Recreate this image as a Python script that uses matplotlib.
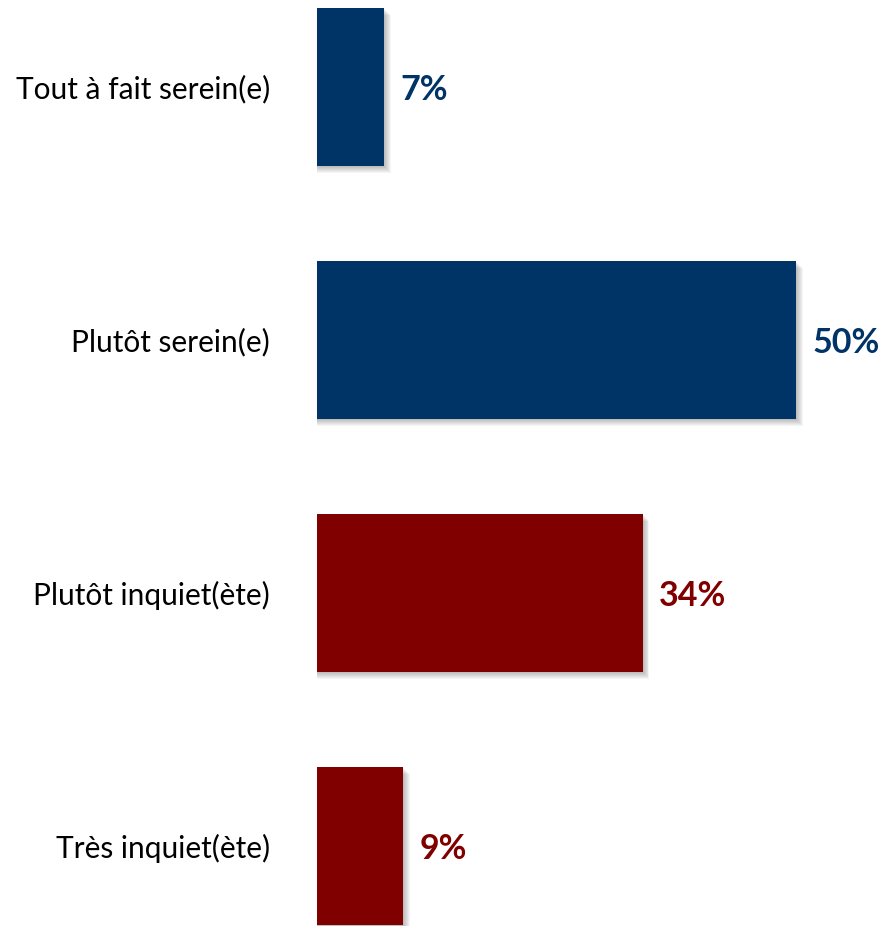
import matplotlib
matplotlib.use("Agg")
import matplotlib.pyplot as plt
import numpy as np

# Data
categories = ["Tout à fait serein(e)", "Plutôt serein(e)", "Plutôt inquiet(ète)", "Très inquiet(ète)"]
values = [7, 50, 34, 9]
colors = ["#003366", "#003366", "#800000", "#800000"]

plt.rcParams['font.family'] = ['Lato', 'DejaVu Sans']

fig = plt.figure(figsize=(8.84, 9.26), dpi=100)
ax = fig.add_axes([317 / 884, 0, 1 - 317 / 884, 1])

ypos = np.arange(len(categories))
bar_h = 0.625

# soft shadow: a few offset translucent rectangles
for k in range(1, 8):
    ax.barh(ypos + 0.004 * k, [v + 0.1 * k for v in values], height=bar_h,
            left=0, color="black", alpha=0.04, zorder=1)

ax.barh(ypos, values, height=bar_h, color=colors, zorder=2)

for y, v, c in zip(ypos, values, colors):
    ax.text(v + 1.7, y + 0.012, "{}%".format(v), color=c, fontsize=24.5,
            fontweight="bold", va="center", ha="left")

ax.set_xlim(0, 567 / 9.58)
ax.set_ylim((926 - 87) / 253, -87 / 253)
ax.set_yticks(ypos)
ax.set_yticklabels(categories, fontsize=21.5)
ax.tick_params(axis="y", length=0, pad=34)
ax.set_xticks([])
for s in ax.spines.values():
    s.set_visible(False)

fig.savefig("out.png", dpi=100)
plt.close(fig)
